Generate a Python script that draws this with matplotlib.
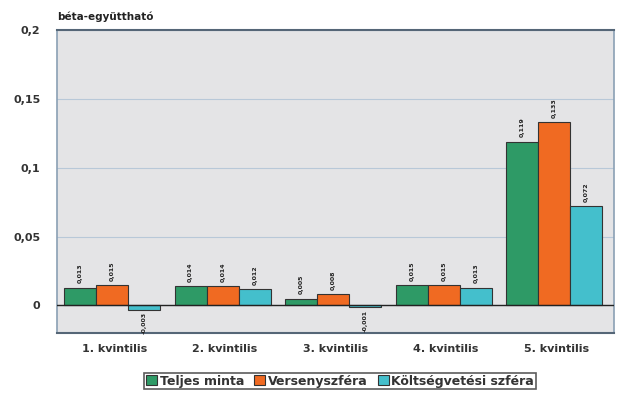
import numpy as np
import matplotlib.pyplot as plt
from matplotlib.ticker import FuncFormatter

categories = ['1. kvintilis', '2. kvintilis', '3. kvintilis', '4. kvintilis', '5. kvintilis']
series_names = ['Teljes minta', 'Versenyszféra', 'Költségvetési szféra']
teljes = [0.013, 0.014, 0.005, 0.015, 0.119]
verseny = [0.015, 0.014, 0.008, 0.015, 0.133]
koltseg = [-0.003, 0.012, -0.001, 0.013, 0.072]
colors = ['#2e9a66', '#f06a22', '#44bfcc']

fig = plt.figure(figsize=(6.22, 3.96), dpi=100)
ax = fig.add_axes([57/622, 1 - 333/396, 557/622, 303/396])
ax.set_facecolor('#e4e4e6')

x = np.arange(len(categories))
w = 0.29
for i, (vals, name) in enumerate(zip([teljes, verseny, koltseg], series_names)):
    pos = x + (i - 1) * w - 0.02
    ax.bar(pos, vals, w, color=colors[i], edgecolor='#333333', linewidth=0.8,
           label=name, zorder=3)
    for xp, v in zip(pos, vals):
        txt = f'{v:.3f}'.replace('.', ',')
        if v >= 0:
            ax.text(xp, v + 0.003, txt, rotation=90, ha='center', va='bottom',
                    fontsize=4.5, fontweight='bold', color='#222222')
        else:
            ax.text(xp, v - 0.002, txt, rotation=90, ha='center', va='top',
                    fontsize=4.5, fontweight='bold', color='#222222')

ax.axhline(0, color='#222222', linewidth=1, zorder=4)
ax.set_ylim(-0.02, 0.2)
ax.set_xlim(-0.52, 4.52)
ax.set_yticks([0, 0.05, 0.1, 0.15, 0.2])
ax.yaxis.set_major_formatter(FuncFormatter(lambda v, p: ('%g' % v).replace('.', ',')))
ax.grid(axis='y', color='#b8c8d8', linewidth=0.8, zorder=0)
ax.set_xticks(x)
ax.set_xticklabels(categories, fontsize=8, fontweight='bold', color='#333333')
ax.tick_params(axis='y', labelsize=8, length=0, pad=12, labelcolor='#333333')
ax.tick_params(axis='x', length=0, pad=8)
for t in ax.get_yticklabels():
    t.set_fontweight('bold')
for s in ['left', 'right']:
    ax.spines[s].set_color('#8aa0b4')
    ax.spines[s].set_linewidth(1.2)
ax.spines['top'].set_color('#556677')
ax.spines['top'].set_linewidth(1.5)
ax.spines['bottom'].set_color('#556677')
ax.spines['bottom'].set_linewidth(1.5)

fig.text(57/622, 1 - 17/396, 'béta-együttható', fontsize=7.5, fontweight='bold',
         color='#222222', va='center')

leg = fig.legend(loc='center', bbox_to_anchor=(340/622, 1 - 381/396), ncol=3,
                 fontsize=9, frameon=True, fancybox=False, edgecolor='#333333',
                 handlelength=0.9, handleheight=0.9, handletextpad=0.2,
                 columnspacing=0.8, borderpad=0.15)
leg.get_frame().set_linewidth(1.2)
for t in leg.get_texts():
    t.set_fontweight('bold')
    t.set_color('#333333')

fig.savefig('out.png', dpi=100)
